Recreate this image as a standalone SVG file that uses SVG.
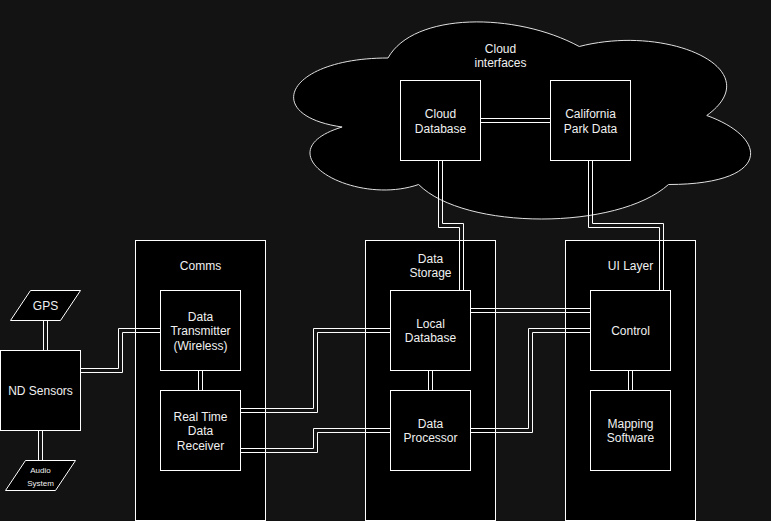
<svg xmlns="http://www.w3.org/2000/svg" width="771" height="521" viewBox="0 0 771 521">
<style>
.bg{fill:#131313}
.box{fill:#000;stroke:#fff;stroke-width:1}
.cloud{fill:#000;stroke:#e0e0e0;stroke-width:1}
.ln{fill:none;stroke:#fff;stroke-width:1}
text{font-family:"Liberation Sans",Arial,sans-serif;font-size:12px;fill:#f0f0f0;text-anchor:middle}
.sm{font-size:8px}
</style>
<rect class="bg" x="0" y="0" width="771" height="521"/>
<g transform="translate(0.5 0.5)">
<g id="cloud-interfaces">
<path class="cloud" d="M387.5 57.5 C285.5 57.5 260 115 341.6 126.5 C260 151.8 351.8 207 418.1 184 C464 230 617 230 668 184 C770 184 770 138 706.25 115 C770 69 668 23 578.75 46 C515 11.5 413 11.5 387.5 57.5 Z"/>
<text x="500" y="52">Cloud</text>
<text x="500" y="66.5">interfaces</text>
</g>
<g id="comms"><rect class="box" x="135" y="240" width="130" height="280"/><text x="200" y="269">Comms</text></g>
<g id="data-storage"><rect class="box" x="365" y="240" width="130" height="280"/><text x="430" y="262">Data</text><text x="430" y="276">Storage</text></g>
<g id="ui-layer"><rect class="box" x="565" y="240" width="130" height="280"/><text x="630" y="269">UI Layer</text></g>
<g id="connectors">
<polyline class="ln" points="80,368 118,368 118,328 160,328"/>
<polyline class="ln" points="80,372 122,372 122,332 160,332"/>
<polyline class="ln" points="43,320 43,350"/>
<polyline class="ln" points="47,320 47,350"/>
<polyline class="ln" points="38,430 38,460"/>
<polyline class="ln" points="42,430 42,460"/>
<polyline class="ln" points="198,370 198,390"/>
<polyline class="ln" points="202,370 202,390"/>
<polyline class="ln" points="240,408 313,408 313,328 390,328"/>
<polyline class="ln" points="240,412 317,412 317,332 390,332"/>
<polyline class="ln" points="240,448 313,448 313,428 390,428"/>
<polyline class="ln" points="240,452 317,452 317,432 390,432"/>
<polyline class="ln" points="470,428 528,428 528,328 590,328"/>
<polyline class="ln" points="470,432 532,432 532,332 590,332"/>
<polyline class="ln" points="470,308 590,308"/>
<polyline class="ln" points="470,312 590,312"/>
<polyline class="ln" points="428,370 428,390"/>
<polyline class="ln" points="432,370 432,390"/>
<polyline class="ln" points="628,370 628,390"/>
<polyline class="ln" points="632,370 632,390"/>
<polyline class="ln" points="438,160 438,227 459,227 459,290"/>
<polyline class="ln" points="442,160 442,223 463,223 463,290"/>
<polyline class="ln" points="588,160 588,227 659,227 659,290"/>
<polyline class="ln" points="592,160 592,223 663,223 663,290"/>
<polyline class="ln" points="480,118 550,118"/>
<polyline class="ln" points="480,122 550,122"/>
</g>
<g id="cloud-database"><rect class="box" x="400" y="80" width="80" height="80"/><text x="440" y="117.5">Cloud</text><text x="440" y="132">Database</text></g>
<g id="california-park-data"><rect class="box" x="550" y="80" width="80" height="80"/><text x="590" y="117.5">California</text><text x="590" y="132">Park Data</text></g>
<g id="gps"><polygon class="box" points="30,290 80,290 60,320 10,320"/><text x="45" y="309">GPS</text></g>
<g id="nd-sensors"><rect class="box" x="0" y="350" width="80" height="80"/><text x="40" y="394">ND Sensors</text></g>
<g id="audio-system"><polygon class="box" points="25,460 75,460 55,490 5,490"/><text class="sm" x="40" y="472">Audio</text><text class="sm" x="40" y="485">System</text></g>
<g id="data-transmitter"><rect class="box" x="160" y="290" width="80" height="80"/><text x="200" y="320">Data</text><text x="200" y="334.5">Transmitter</text><text x="200" y="349">(Wireless)</text></g>
<g id="real-time-data-receiver"><rect class="box" x="160" y="390" width="80" height="80"/><text x="200" y="420">Real Time</text><text x="200" y="434.5">Data</text><text x="200" y="449">Receiver</text></g>
<g id="local-database"><rect class="box" x="390" y="290" width="80" height="80"/><text x="430" y="327">Local</text><text x="430" y="341.5">Database</text></g>
<g id="data-processor"><rect class="box" x="390" y="390" width="80" height="80"/><text x="430" y="427">Data</text><text x="430" y="441.5">Processor</text></g>
<g id="control"><rect class="box" x="590" y="290" width="80" height="80"/><text x="630" y="334">Control</text></g>
<g id="mapping-software"><rect class="box" x="590" y="390" width="80" height="80"/><text x="630" y="427">Mapping</text><text x="630" y="441.5">Software</text></g>
</g>
</svg>
